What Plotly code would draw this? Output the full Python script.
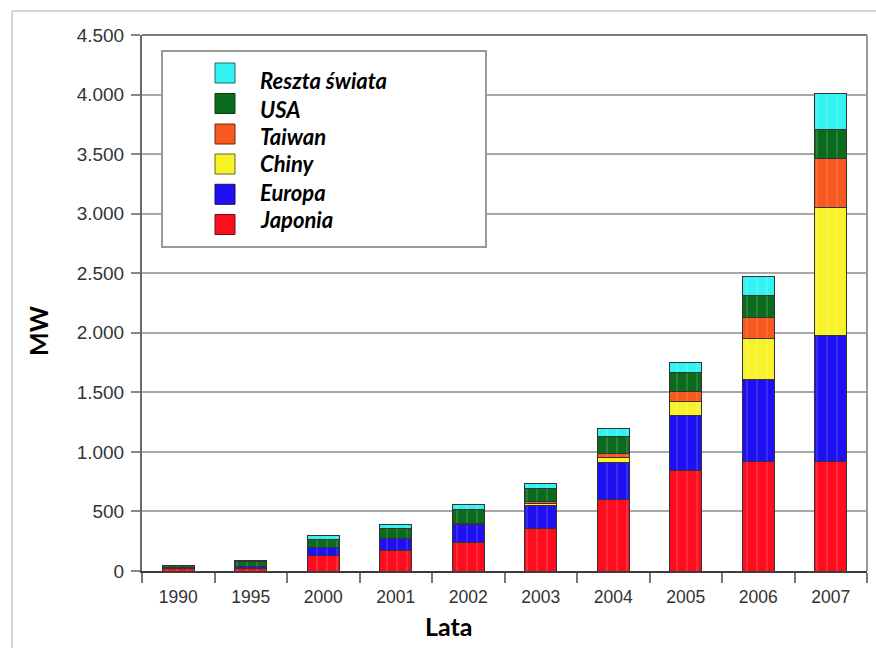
import plotly.graph_objects as go

# Annual PV cell production by region (MW)
years = ["1990", "1995", "2000", "2001", "2002", "2003", "2004", "2005", "2006", "2007"]
japonia = [20, 18, 130, 174, 241, 361, 604, 840, 922, 922]
europa = [10, 22, 64, 95, 148, 189, 306, 468, 689, 1059]
chiny = [None, None, None, None, 8, 14, 45, 111, 343, 1073]
taiwan = [None, None, None, None, None, 18, 33, 92, 176, 405]
usa = [13, 38, 69, 84, 123, 112, 145, 159, 186, 251]
reszta = [5, 10, 33, 36, 36, 42, 64, 84, 153, 301]

# stacking order, bottom to top
series_names = ["Japonia", "Europa", "Chiny", "Taiwan", "USA", "Reszta świata"]
series_values = [japonia, europa, chiny, taiwan, usa, reszta]
series_colors = ["#ff0d1f", "#1f10f2", "#f7f229", "#f7591f", "#0b6b1c", "#33f2f2"]
series_edges = ["#6a1010", "#15105a", "#6a6a18", "#6a2a10", "#0a3a10", "#1a6a6a"]

y_ticks = list(range(0, 4501, 500))

# figure geometry (pixels)
W, H = 876, 648
L, R, T, B = 142, 9, 35, 77
PW, PH = W - L - R, H - T - B


def px(x):
    return (x - L) / PW


def py(y):
    return (H - B - y) / PH


fig = go.Figure()
for name, vals, col in zip(series_names, series_values, series_colors):
    fig.add_trace(go.Bar(
        x=years, y=vals, name=name, width=0.44,
        marker=dict(
            color=col,
            line=dict(color="#333333", width=1),
            pattern=dict(shape="|", size=10, solidity=0.2, fgcolor="white",
                         fgopacity=0.12, fillmode="overlay"),
        ),
        showlegend=False,
    ))

shapes = []
annotations = []

# outer frame
shapes.append(dict(type="line", xref="paper", yref="paper", x0=px(12), x1=px(880),
                   y0=py(11), y1=py(11), line=dict(color="#d4d4d4", width=2)))
shapes.append(dict(type="line", xref="paper", yref="paper", x0=px(12), x1=px(12),
                   y0=py(11), y1=py(652), line=dict(color="#d4d4d4", width=2)))
# plot frame (top and right)
shapes.append(dict(type="line", xref="paper", yref="paper", x0=0, x1=1,
                   y0=1, y1=1, line=dict(color="#7c7c7c", width=2)))
shapes.append(dict(type="line", xref="paper", yref="paper", x0=1, x1=1,
                   y0=0, y1=1, line=dict(color="#9a9a9a", width=2)))

# legend box
shapes.append(dict(type="rect", xref="paper", yref="paper", x0=px(162), x1=px(486),
                   y0=py(247), y1=py(51), fillcolor="white",
                   line=dict(color="#999999", width=2), layer="above"))

legend_order = list(range(len(series_names)))[::-1]
sq_centers = [73, 103.5, 134, 164, 194.3, 224.5]
txt_centers = [81, 109, 136, 164, 192.5, 219]
for k, i in enumerate(legend_order):
    c = sq_centers[k]
    shapes.append(dict(type="rect", xref="paper", yref="paper",
                       x0=px(215), x1=px(235), y0=py(c + 10), y1=py(c - 10),
                       fillcolor=series_colors[i],
                       line=dict(color=series_edges[i], width=1), layer="above"))
    annotations.append(dict(xref="paper", yref="paper", x=px(258), y=py(txt_centers[k]),
                            xanchor="left", yanchor="middle", showarrow=False,
                            text="<b><i>%s</i></b>" % series_names[i],
                            font=dict(family="Lato", size=22, color="#000000")))

# axis titles
annotations.append(dict(xref="paper", yref="paper", x=px(38), y=py(331),
                        xanchor="center", yanchor="middle", showarrow=False,
                        text="<b>MW</b>", textangle=-90,
                        font=dict(family="Lato", size=25, color="#000000")))
annotations.append(dict(xref="paper", yref="paper", x=px(449), y=py(626),
                        xanchor="center", yanchor="middle", showarrow=False,
                        text="<b>Lata</b>",
                        font=dict(family="Lato", size=25, color="#000000")))

fig.update_layout(
    width=W, height=H,
    margin=dict(l=L, r=R, t=T, b=B),
    barmode="stack",
    paper_bgcolor="white",
    plot_bgcolor="white",
    separators=",.",
    shapes=shapes,
    annotations=annotations,
    xaxis=dict(
        type="category", range=[-0.5, 9.5],
        showline=True, linecolor="#3c3c3c", linewidth=2,
        ticks="outside", tickson="boundaries", ticklen=10, tickwidth=1.5, tickcolor="#777777",
        showgrid=False,
        tickfont=dict(family="Liberation Sans", size=17.5, color="#333333"),
        ticklabelstandoff=9,
    ),
    yaxis=dict(
        range=[0, 4500], tickvals=y_ticks, tickformat=",d",
        showline=True, linecolor="#6a6a6a", linewidth=2,
        ticks="outside", ticklen=9, tickwidth=1.5, tickcolor="#888888",
        showgrid=True, gridcolor="#a8a8a8", gridwidth=2, zeroline=False,
        tickfont=dict(family="Liberation Sans", size=19, color="#333333"),
        ticklabelstandoff=3,
    ),
)

fig.write_html("out.html")
